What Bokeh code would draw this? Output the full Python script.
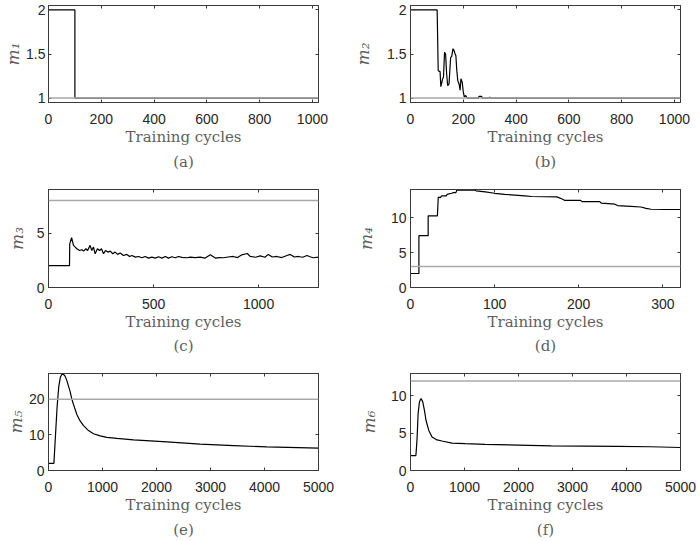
from bokeh.plotting import figure
from bokeh.layouts import gridplot
from bokeh.models import Range1d, FixedTicker, CustomJSTickFormatter, LinearAxis, Span, Title
from bokeh.embed import file_html
from bokeh.resources import INLINE

# ---------------- data ----------------
a_x = [0, 100, 100, 1023]
a_y = [2, 2, 1, 1]

b_x = [0, 101, 105, 112, 115, 122, 125, 129, 133, 137, 141, 146, 152, 156, 161, 165, 169, 172,
       175, 179, 184, 188, 191, 196, 200, 204, 209, 215, 257, 260, 269, 273, 296, 300, 305, 1023]
b_y = [2, 2, 1.31, 1.30, 1.13, 1.22, 1.24, 1.52, 1.50, 1.27, 1.14, 1.16, 1.46, 1.47, 1.56, 1.54, 1.50, 1.48,
       1.33, 1.20, 1.16, 1.09, 1.22, 1.18, 1.07, 1.01, 1.03, 1.0, 1.0, 1.02, 1.02, 1.0, 1.0, 1.01, 1.0, 1.0]

c_x = [0, 100, 101, 110, 119, 127, 135, 148, 159, 167, 178, 186, 198, 206, 214, 222, 233, 243, 252, 262,
       271, 283, 294, 306, 317, 329, 341, 357, 373, 386, 397, 413, 429, 444, 460, 476, 492, 508, 524, 540,
       556, 571, 587, 603, 619, 635, 659, 675, 698, 722, 746, 770, 794, 813, 832, 855, 879, 900, 920, 946,
       960, 985, 1008, 1030, 1046, 1065, 1087, 1110, 1135, 1150, 1170, 1189, 1210, 1230, 1245, 1260, 1285]
c_y = [2, 2, 4.0, 4.57, 3.87, 3.71, 3.56, 3.40, 3.47, 3.34, 3.56, 3.40, 3.87, 3.40, 3.71, 3.10, 3.56, 3.40, 3.56, 3.10,
       3.40, 3.25, 3.34, 3.10, 3.25, 3.04, 3.16, 2.94, 3.04, 2.85, 2.94, 2.79, 2.85, 2.73, 2.85, 2.70, 2.79, 2.70, 2.82, 2.70,
       2.85, 2.70, 2.82, 2.73, 2.85, 2.76, 2.73, 2.79, 2.74, 2.79, 2.70, 3.0, 2.70, 2.75, 2.73, 2.80, 2.85, 2.75, 3.0, 3.12,
       2.85, 2.78, 2.90, 2.78, 3.04, 2.80, 2.85, 2.75, 2.94, 3.04, 2.80, 2.85, 2.78, 2.94, 2.82, 2.73, 2.79]

d_x = [0, 10, 10, 21, 21, 32, 33, 35.5, 37, 42.6, 43.4, 49, 51, 54, 55, 77, 78, 89, 100, 112,
       124, 136, 144, 174, 181, 183, 202, 204, 225, 227, 243, 246, 262, 274, 280, 286, 302, 321]
d_y = [2, 2, 7.4, 7.4, 10.24, 10.24, 12.9, 12.84, 13.08, 13.08, 13.3, 13.46, 13.55, 13.55, 13.9, 13.9, 13.8, 13.65, 13.46, 13.3,
       13.2, 13.1, 13.0, 12.95, 12.6, 12.46, 12.46, 12.27, 12.27, 12.04, 11.9, 11.7, 11.6, 11.5, 11.3, 11.18, 11.14, 11.14]

e_x = [0, 100, 130, 160, 190, 220, 255, 290, 309, 340, 401, 432, 463, 525, 586, 648, 741, 833, 957, 1080,
       1266, 1574, 2193, 2809, 3426, 4044, 5000]
e_y = [2, 2, 10, 18, 23.5, 26.2, 27.1, 26.8, 26.4, 25.2, 22.1, 20.0, 18.5, 15.7, 13.9, 12.6, 11.2, 10.3, 9.7, 9.3,
       9.0, 8.6, 8.0, 7.4, 7.0, 6.6, 6.3]

f_x = [0, 100, 110, 123, 141, 166, 196, 227, 258, 288, 337, 399, 491, 583, 767, 1012, 1380, 1994, 2607, 3221,
       3834, 4448, 5000]
f_y = [2, 2, 3.0, 4.5, 7.6, 9.2, 9.64, 9.2, 8.07, 6.7, 5.4, 4.5, 4.1, 3.95, 3.68, 3.59, 3.5, 3.4, 3.3, 3.27,
       3.23, 3.18, 3.08]

target_values = [1, 1, 8, 3, 20, 12]
y_labels = ["m\u2081", "m\u2082", "m\u2083", "m\u2084", "m\u2085", "m\u2086"]
captions = ["(a)", "(b)", "(c)", "(d)", "(e)", "(f)"]
x_label = "Training cycles"

xticks_ab = [0, 200, 400, 600, 800, 1000]
yticks_ab = [1, 1.5, 2]
xticks_c = [0, 500, 1000]
yticks_c = [0, 5]
xticks_d = [0, 100, 200, 300]
yticks_d = [0, 5, 10]
xticks_ef = [0, 1000, 2000, 3000, 4000, 5000]
yticks_e = [0, 10, 20]
yticks_f = [0, 5, 10]

# ---------------- styling ----------------
AX = "#3a3a3a"
TICK_TXT = "#262626"
LAB = "#5f5f5f"
SERIF = "DejaVu Serif"
SANS = "Liberation Sans"


def panel(xs, ys, xmax, yr, xt, yt, target, ylab, cap, h, bl, br, bt, bb, ylab_so, cap_so, ytick_so=4):
    p = figure(width=350, height=h, x_range=Range1d(0, xmax), y_range=Range1d(*yr),
               output_backend="svg", toolbar_location=None,
               min_border_left=bl, min_border_right=br, min_border_top=bt, min_border_bottom=bb)
    p.grid.visible = False
    p.outline_line_color = AX
    p.outline_line_width = 1
    p.background_fill_color = "white"
    p.border_fill_color = "white"

    fmt = CustomJSTickFormatter(code="return tick.toString()")
    p.xaxis.ticker = FixedTicker(ticks=xt)
    p.yaxis.ticker = FixedTicker(ticks=yt)
    for ax in (p.xaxis[0], p.yaxis[0]):
        ax.formatter = fmt
        ax.major_tick_in = 3
        ax.major_tick_out = 0
        ax.minor_tick_in = 0
        ax.minor_tick_out = 0
        ax.axis_line_color = AX
        ax.major_tick_line_color = AX
        ax.major_label_text_font = SANS
        ax.major_label_text_font_size = "14px"
        ax.major_label_text_color = TICK_TXT
    p.xaxis.major_label_standoff = 11
    p.yaxis.major_label_standoff = ytick_so
    p.xaxis.axis_label = x_label
    p.xaxis.axis_label_text_font = SERIF
    p.xaxis.axis_label_text_font_style = "normal"
    p.xaxis.axis_label_text_font_size = "15px"
    p.xaxis.axis_label_text_color = LAB
    p.xaxis.axis_label_standoff = 1
    p.yaxis.axis_label = ylab
    p.yaxis.axis_label_text_font = SERIF
    p.yaxis.axis_label_text_font_style = "italic"
    p.yaxis.axis_label_text_font_size = "17px"
    p.yaxis.axis_label_text_color = LAB
    p.yaxis.axis_label_standoff = ylab_so

    blank = CustomJSTickFormatter(code="return ''")
    top = LinearAxis(ticker=FixedTicker(ticks=xt), formatter=blank, major_label_text_font_size="0px",
                     major_tick_in=3, major_tick_out=0, minor_tick_in=0, minor_tick_out=0,
                     major_label_standoff=0, axis_line_color=AX, major_tick_line_color=AX)
    right = LinearAxis(ticker=FixedTicker(ticks=yt), formatter=blank, major_label_text_font_size="0px",
                       major_tick_in=3, major_tick_out=0, minor_tick_in=0, minor_tick_out=0,
                       major_label_standoff=0, axis_line_color=AX, major_tick_line_color=AX)
    p.add_layout(top, "above")
    p.add_layout(right, "right")

    p.line(xs, ys, line_color="black", line_width=1.2)
    p.add_layout(Span(location=target, dimension="width", line_color="#a9a9a9", line_width=1.5))

    p.add_layout(Title(text=cap, align="center", text_font=SERIF, text_font_size="15px",
                       text_font_style="normal", text_color=LAB, standoff=cap_so), "below")
    return p


pa = panel(a_x, a_y, 1023, (0.95, 2.05), xticks_ab, yticks_ab, target_values[0], y_labels[0], captions[0],
           180, 48, 32, 5, 78, 0, 5, ytick_so=3)
pb = panel(b_x, b_y, 1023, (0.95, 2.05), xticks_ab, yticks_ab, target_values[1], y_labels[1], captions[1],
           180, 58, 20, 5, 78, 11, 5)
pc = panel(c_x, c_y, 1285, (0, 9), xticks_c, yticks_c, target_values[2], y_labels[2], captions[2],
           180, 48, 32, 9, 73, 7, 2)
pd = panel(d_x, d_y, 321, (0, 14), xticks_d, yticks_d, target_values[3], y_labels[3], captions[3],
           180, 58, 20, 9, 73, 12, 2)
pe = panel(e_x, e_y, 5000, (0, 27.2), xticks_ef, yticks_e, target_values[4], y_labels[4], captions[4],
           180, 48, 32, 13, 69, 0, 4)
pf = panel(f_x, f_y, 5000, (0, 13), xticks_ef, yticks_f, target_values[5], y_labels[5], captions[5],
           180, 58, 20, 13, 69, 9, 4)

grid = gridplot([[pa, pb], [pc, pd], [pe, pf]], toolbar_location=None)

open("out.html", "w").write(file_html(grid, INLINE))
